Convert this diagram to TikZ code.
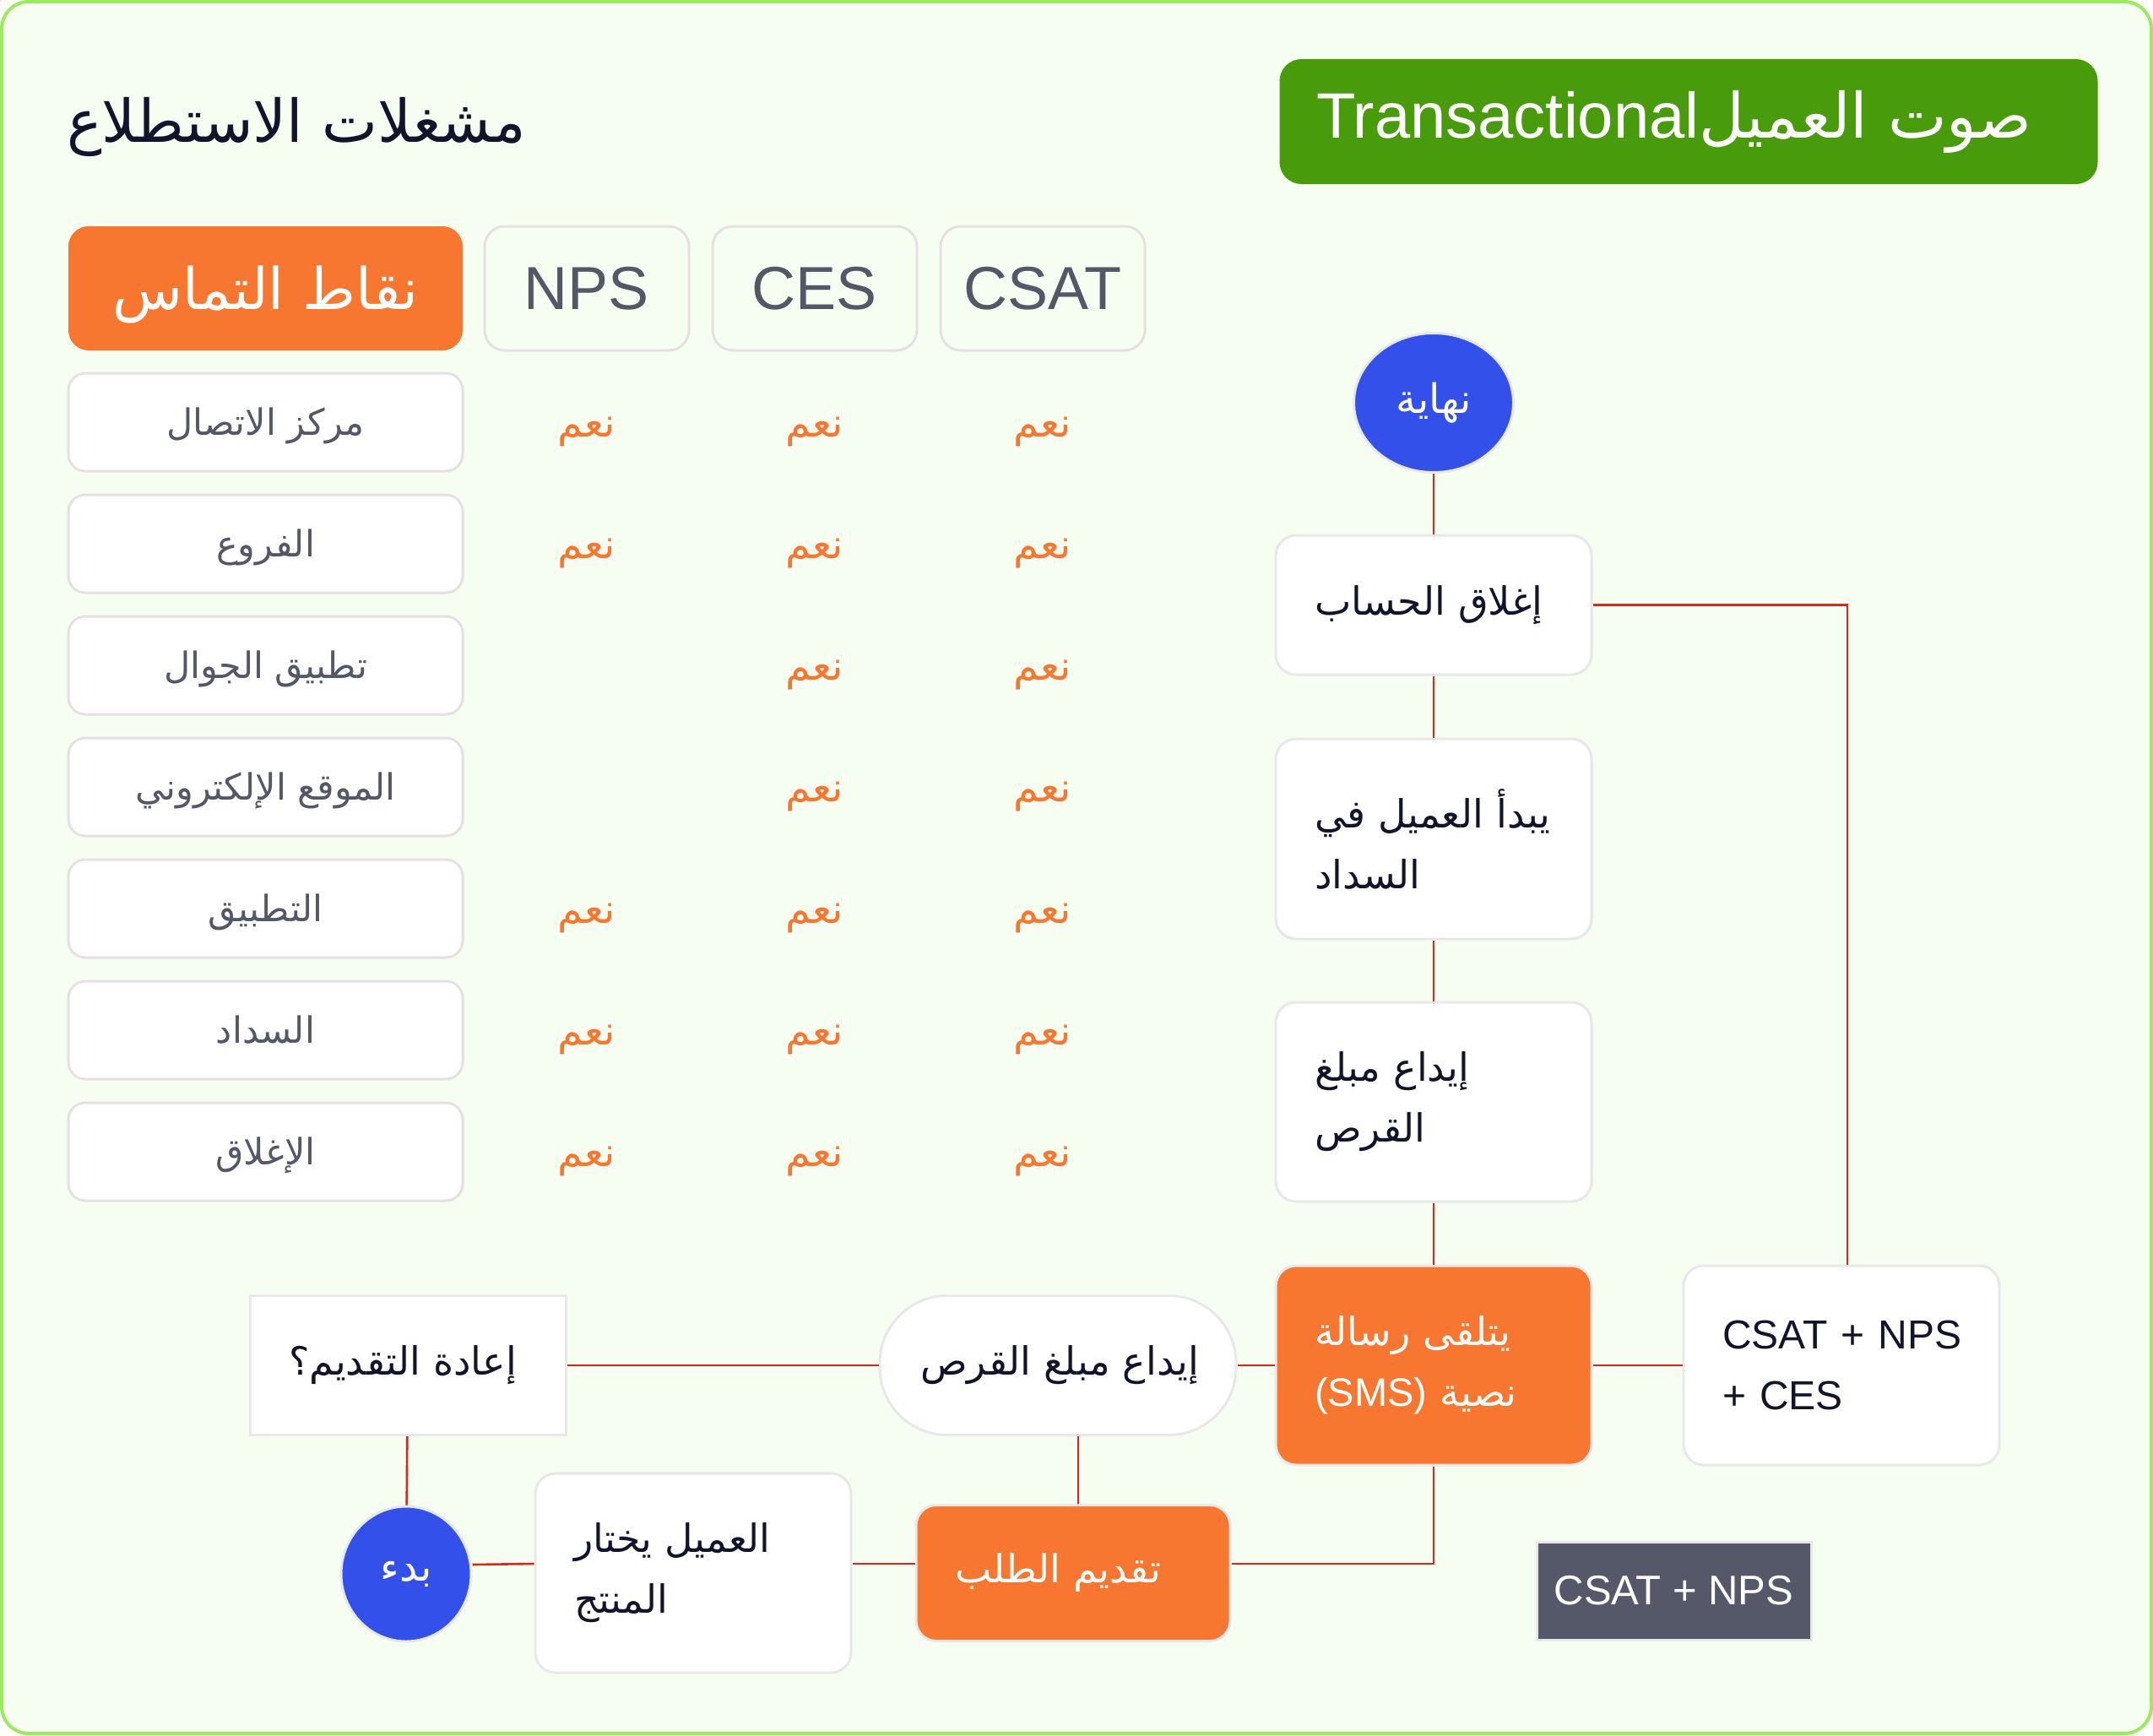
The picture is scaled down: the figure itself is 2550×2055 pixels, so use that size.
\documentclass[tikz,border=0pt]{standalone}
\usepackage{fontspec}
\setmainfont{Liberation Sans}
\newfontfamily\arabicfont[Script=Arabic]{DejaVu Sans}
\TeXXeTstate=1
\usetikzlibrary{shapes.geometric}
\definecolor{bg}{HTML}{F6FDF1}
\definecolor{framec}{HTML}{9CEB5C}
\definecolor{hdrgreen}{HTML}{489C0C}
\definecolor{orng}{HTML}{F77730}
\definecolor{blu}{HTML}{3350EA}
\definecolor{redl}{HTML}{E5231B}
\definecolor{graytxt}{HTML}{535766}
\definecolor{darktxt}{HTML}{11142A}
\definecolor{bordgray}{HTML}{E6E1E0}
\definecolor{flowbord}{HTML}{E8E8E8}
\definecolor{slate}{HTML}{555869}
\newcommand{\artxt}[1]{\mbox{\arabicfont\beginR #1\endR}}
\begin{document}
\begin{tikzpicture}[x=1pt,y=-1pt,
  hdrbox/.style={rounded corners=24pt, minimum width=242pt, minimum height=147pt, inner sep=0pt},
  metricbox/.style={hdrbox, draw=bordgray, line width=3pt, fill=bg, text=graytxt, font=\fontsize{72}{86}\selectfont},
  rowbox/.style={draw=bordgray, line width=3pt, fill=white, rounded corners=20pt, minimum width=467pt, minimum height=116pt, inner sep=0pt, text=graytxt, text height=31pt, text depth=0pt, font=\fontsize{43}{50}\selectfont},
  yes/.style={text=orng, inner sep=0pt, text height=34pt, text depth=0pt, font=\fontsize{48}{56}\selectfont},
  flowbox/.style={draw=flowbord, line width=3pt, fill=white, rounded corners=24pt, text width=282pt, inner xsep=46pt, inner ysep=0pt, align=left, text=darktxt, font=\fontsize{46}{72}\selectfont},
  orangebox/.style={flowbox, fill=orng, text=white},
  termnode/.style={ellipse, draw=flowbord, line width=3pt, fill=blu, text=white, inner sep=0pt, font=\fontsize{48}{56}\selectfont},
  conn/.style={draw=redl, line width=2.6pt}
]
\useasboundingbox (0,0) rectangle (2550,2055);
\draw[draw=framec, line width=4pt, fill=bg, rounded corners=32pt] (2,2) rectangle (2548,2053);

% titles
\node[text=darktxt, inner sep=0pt, font=\fontsize{70}{80}\selectfont] (title) at (351,150) {\artxt{مشغلات الاستطلاع}};
\node[fill=hdrgreen, rounded corners=26pt, minimum width=969pt, minimum height=148pt, inner sep=0pt, text=white, font=\fontsize{74}{86}\selectfont] (vocbox) at (2000,144) {\artxt{صوت العميل\beginL{\rmfamily\fontsize{76}{86}\selectfont Transactional}\endL}\hspace*{34pt}};

% table header
\node[hdrbox, fill=orng, minimum width=467pt, text=white, text height=50pt, text depth=0pt, font=\fontsize{68}{80}\selectfont] (tp) at (314.5,341.5) {\artxt{نقاط التماس}};
\node[metricbox] (nps) at (695,341.5) {NPS};
\node[metricbox] (ces) at (965,341.5) {CES};
\node[metricbox] (csat) at (1235,341.5) {CSAT};

% rows
\node[rowbox] (r1) at (314.5,500) {\artxt{مركز الاتصال}};
\node[rowbox] (r2) at (314.5,644) {\artxt{الفروع}};
\node[rowbox] (r3) at (314.5,788) {\artxt{تطبيق الجوال}};
\node[rowbox] (r4) at (314.5,932) {\artxt{الموقع الإلكتروني}};
\node[rowbox] (r5) at (314.5,1076) {\artxt{التطبيق}};
\node[rowbox] (r6) at (314.5,1220) {\artxt{السداد}};
\node[rowbox] (r7) at (314.5,1364) {\artxt{الإغلاق}};

% yes marks
\node[yes] (n1) at (695,500) {\artxt{نعم}};
\node[yes] (c1) at (965,500) {\artxt{نعم}};
\node[yes] (s1) at (1235,500) {\artxt{نعم}};
\node[yes] (n2) at (695,644) {\artxt{نعم}};
\node[yes] (c2) at (965,644) {\artxt{نعم}};
\node[yes] (s2) at (1235,644) {\artxt{نعم}};
\node[yes] (c3) at (965,788) {\artxt{نعم}};
\node[yes] (s3) at (1235,788) {\artxt{نعم}};
\node[yes] (c4) at (965,932) {\artxt{نعم}};
\node[yes] (s4) at (1235,932) {\artxt{نعم}};
\node[yes] (n5) at (695,1076) {\artxt{نعم}};
\node[yes] (c5) at (965,1076) {\artxt{نعم}};
\node[yes] (s5) at (1235,1076) {\artxt{نعم}};
\node[yes] (n6) at (695,1220) {\artxt{نعم}};
\node[yes] (c6) at (965,1220) {\artxt{نعم}};
\node[yes] (s6) at (1235,1220) {\artxt{نعم}};
\node[yes] (n7) at (695,1364) {\artxt{نعم}};
\node[yes] (c7) at (965,1364) {\artxt{نعم}};
\node[yes] (s7) at (1235,1364) {\artxt{نعم}};

% flow
\node[termnode, minimum width=189pt, minimum height=165pt] (endc) at (1698,477) {\artxt{نهاية}};
\node[flowbox, minimum height=165pt] (close) at (1698,716.5) {\artxt{إغلاق الحساب}};
\node[flowbox, minimum height=237pt] (pay) at (1698,993.5) {\artxt{يبدأ العميل في}\\\artxt{السداد}};
\node[flowbox, minimum height=236pt] (dep) at (1698,1305) {\artxt{إيداع مبلغ}\\\artxt{القرص}};
\node[orangebox, minimum height=236pt] (sms) at (1698,1617) {\artxt{يتلقى رسالة}\\\artxt{نصية \beginL{\rmfamily\fontsize{47}{72}\selectfont(SMS)}\endL}};
\node[flowbox, minimum height=236pt, font=\fontsize{48}{72}\selectfont] (csat3) at (2181,1617) {\mbox{CSAT + NPS}\\\mbox{+ CES}};
\node[flowbox, rounded corners=80pt, text width=326pt, inner xsep=48pt, minimum height=165pt] (depst) at (1253,1617) {\artxt{إيداع مبلغ القرص}};
\node[flowbox, rounded corners=0pt, minimum height=165pt] (retry) at (483,1617) {\artxt{إعادة التقديم؟}};
\node[termnode, minimum width=154pt, minimum height=160pt] (start) at (481,1864) {\artxt{بدء}};
\node[flowbox, minimum height=236pt] (choose) at (821,1863) {\artxt{العميل يختار}\\\artxt{المنتج}};
\node[orangebox, text width=280pt, minimum height=161pt] (submit) at (1271,1863) {\artxt{تقديم الطلب}};
\node[draw=flowbord, line width=3pt, fill=slate, text=white, minimum width=325pt, minimum height=116pt, inner sep=0pt, font=\fontsize{49}{56}\selectfont] (csat2) at (1982.5,1884) {CSAT + NPS};

% connectors
\draw[conn] (endc) -- (close);
\draw[conn] (close) -- (pay);
\draw[conn] (pay) -- (dep);
\draw[conn] (dep) -- (sms);
\draw[conn] (close.east) -| ([xshift=7pt]csat3.north);
\draw[conn] (sms) -- (csat3);
\draw[conn] (sms) -- (depst);
\draw[conn] (depst) -- (retry);
\draw[conn] (retry) -- (start);
\draw[conn] ([yshift=11pt]start.east) -- ([yshift=11pt]choose.west);
\draw[conn] ([yshift=11pt]choose.east) -- ([yshift=11pt]submit.west);
\draw[conn] ([yshift=11pt]submit.east) -| (sms.south);
\draw[conn] ([xshift=6pt]depst.south -| submit.north) -- ([xshift=6pt]submit.north);
\end{tikzpicture}
\end{document}
